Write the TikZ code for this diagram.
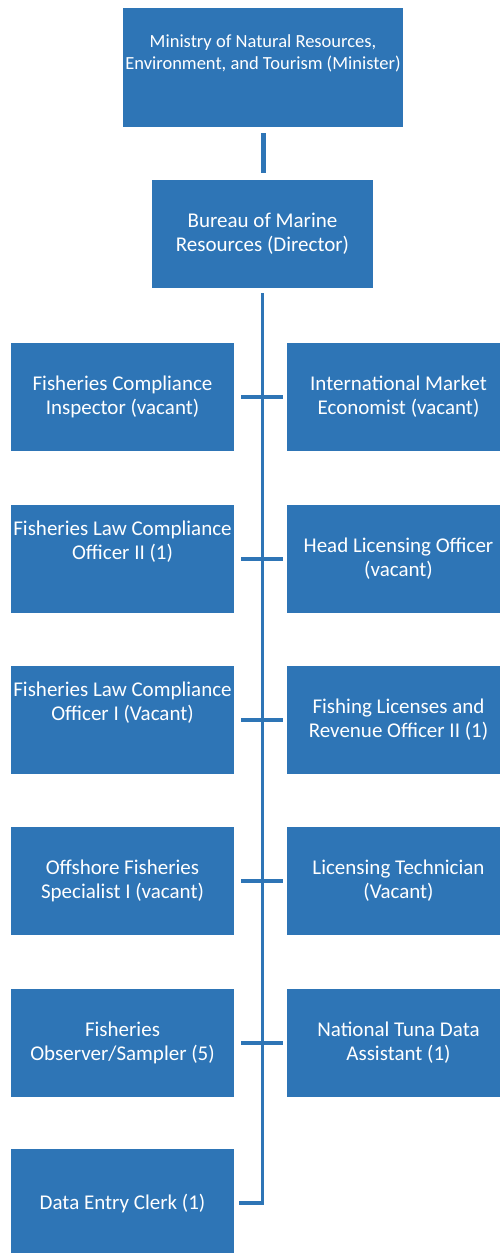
\documentclass[tikz,border=0pt]{standalone}
\usepackage{fontspec}
\setmainfont{Carlito}
\definecolor{mblue}{RGB}{46,117,182}
\tikzset{block/.style = {fill=mblue, rectangle, text=white, align=center, inner sep=0pt, minimum height=108pt, minimum width=223pt, font=\fontsize{21}{24}\selectfont},
         link/.style = {draw=mblue, line width=4pt},
         lifted/.style = {text depth=#1}}
\begin{document}
\begin{tikzpicture}[x=1pt,y=-1pt]
        \useasboundingbox (0,0) rectangle (499,1253);

        \node[block, minimum width=280pt, minimum height=119pt, font=\fontsize{18.5}{22}\selectfont, lifted=30pt] (minister) at (263,67.5) {Ministry of Natural Resources,\\Environment, and Tourism (Minister)};
        \node[block, minimum width=221pt] (bureau) at (262.5,234) {Bureau of Marine\\Resources (Director)};

        \node[block] (l1) at (122.5,396.5) {Fisheries Compliance\\Inspector (vacant)};
        \node[block, lifted=37pt] (l2) at (122.5,558.5) {Fisheries Law Compliance\\Officer II (1)};
        \node[block, lifted=37pt] (l3) at (122.5,720) {Fisheries Law Compliance\\Officer I (Vacant)};
        \node[block] (l4) at (122.5,881) {Offshore Fisheries\\Specialist I (vacant)};
        \node[block] (l5) at (122.5,1042.5) {Fisheries\\Observer/Sampler (5)};
        \node[block] (l6) at (122.5,1203) {Data Entry Clerk (1)};

        \node[block] (r1) at (398.5,396.5) {International Market\\Economist (vacant)};
        \node[block] (r2) at (398.5,558.5) {Head Licensing Officer\\(vacant)};
        \node[block] (r3) at (398.5,720) {Fishing Licenses and\\Revenue Officer II (1)};
        \node[block] (r4) at (398.5,881) {Licensing Technician\\(Vacant)};
        \node[block] (r5) at (398.5,1042.5) {National Tuna Data\\Assistant (1)};

        % connectors
        \draw[link, line width=5pt, shorten <=6pt, shorten >=7pt] (minister.south) -- (minister.south |- bureau.north);
        \draw[link, line width=3.5pt, shorten <=5pt, shorten >=5pt] (bureau.south) |- (l6.east);

        \draw[link, shorten <=7pt, shorten >=4pt] (l1.east) -- (r1.west);
        \draw[link, shorten <=7pt, shorten >=4pt] (l2.east) -- (r2.west);
        \draw[link, shorten <=7pt, shorten >=4pt] (l3.east) -- (r3.west);
        \draw[link, shorten <=7pt, shorten >=4pt] (l4.east) -- (r4.west);
        \draw[link, shorten <=7pt, shorten >=4pt] (l5.east) -- (r5.west);
    \end{tikzpicture}
\end{document}
